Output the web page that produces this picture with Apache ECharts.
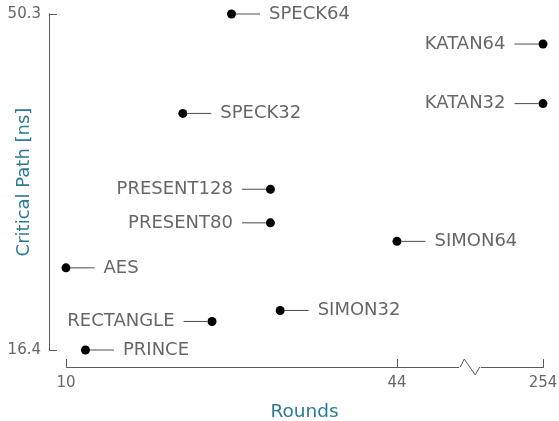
<!DOCTYPE html>
<html><head><meta charset="utf-8">
<script src="https://cdn.jsdelivr.net/npm/echarts@6/dist/echarts.min.js"></script>
<style>html,body{margin:0;padding:0;background:#fff}#c{width:559px;height:421px}</style>
</head><body><div id="c"></div>
<script>
// ---- data ----
const names = ['SPECK64','KATAN64','KATAN32','SPECK32','PRESENT128','PRESENT80','SIMON64','AES','SIMON32','RECTANGLE','PRINCE'];
const rounds = [27, 254, 254, 22, 31, 31, 44, 10, 32, 25, 12];
const criticalPath = [50.3, 47.27, 41.26, 40.27, 32.62, 29.23, 27.36, 24.69, 20.39, 19.28, 16.4];
const xTicks = [10, 44, 254];
const yTicks = [16.4, 50.3];
const xBreak = [50.5, 247.5];

// ---- style ----
const FONT = 'DejaVu Sans';
const TEXT = '#676767';
const AXIS = '#5a5a5a';
const TITLE = '#2b7b97';
const leftLabeled = new Set(['KATAN64','KATAN32','PRESENT128','PRESENT80','RECTANGLE']);

const rich = {
  l: {width: 24, height: 1, backgroundColor: '#4a4a4a', verticalAlign: 'middle'},
  g: {width: 9, height: 1},
  t: {fontFamily: FONT, fontSize: 18, color: TEXT, verticalAlign: 'middle'}
};

const data = names.map((n, i) => ({
  value: [rounds[i], criticalPath[i]],
  name: n,
  label: {
    position: leftLabeled.has(n) ? 'left' : 'right',
    formatter: leftLabeled.has(n) ? '{t|' + n + '}{g|}{l|}' : '{l|}{g|}{t|' + n + '}'
  }
}));

const chart = echarts.init(document.getElementById('c'), null, {renderer: 'canvas'});
const option = {
  animation: false,
  backgroundColor: '#fff',
  grid: {left: 66, right: 16, top: 14, bottom: 71, containLabel: false, outerBoundsMode: 'none'},
  xAxis: {
    type: 'value', min: 10, max: 254, offset: 17,
    breaks: [{start: xBreak[0], end: xBreak[1], gap: 2}],
    breakArea: {show: false},
    axisLine: {show: true, lineStyle: {color: AXIS, width: 1}},
    axisTick: {show: true, inside: true, length: 8, customValues: xTicks, lineStyle: {color: AXIS}},
    axisLabel: {customValues: xTicks, color: TEXT, fontFamily: FONT, fontSize: 15, margin: 9},
    splitLine: {show: false},
    name: 'Rounds', nameLocation: 'middle', nameGap: 36, nameMoveOverlap: false,
    nameTextStyle: {color: TITLE, fontFamily: FONT, fontSize: 18.5}
  },
  yAxis: {
    type: 'value', min: 16.4, max: 50.3, offset: 17,
    axisLine: {show: true, lineStyle: {color: AXIS, width: 1}},
    axisTick: {show: true, inside: true, length: 8, customValues: yTicks, lineStyle: {color: AXIS}},
    axisLabel: {customValues: yTicks, color: TEXT, fontFamily: FONT, fontSize: 15, margin: 8},
    splitLine: {show: false},
    name: 'Critical Path [ns]', nameLocation: 'middle', nameGap: 16, nameMoveOverlap: false,
    nameTextStyle: {color: TITLE, fontFamily: FONT, fontSize: 18}
  },
  series: [{
    type: 'scatter',
    symbol: 'circle', symbolSize: 9,
    itemStyle: {color: '#000', opacity: 1},
    label: {show: true, distance: 0, rich: rich},
    data: data
  }]
};
chart.setOption(option);

// zigzag break marker on the x axis line
const y0 = chart.convertToPixel({yAxisIndex: 0}, 16.4) + 17;
const L = chart.convertToPixel({xAxisIndex: 0}, xBreak[0]);
const R = chart.convertToPixel({xAxisIndex: 0}, xBreak[1]);
chart.setOption({
  graphic: [
    {type: 'rect', shape: {x: L - 1, y: y0 - 2, width: R - L + 2, height: 4}, style: {fill: '#fff'}, z: 100},
    {type: 'polyline', shape: {points: [[L, y0], [L + 4, y0 - 8], [L + 15, y0 + 8], [R, y0]]},
     style: {stroke: AXIS, lineWidth: 1, fill: null}, z: 101}
  ]
});
</script></body></html>
